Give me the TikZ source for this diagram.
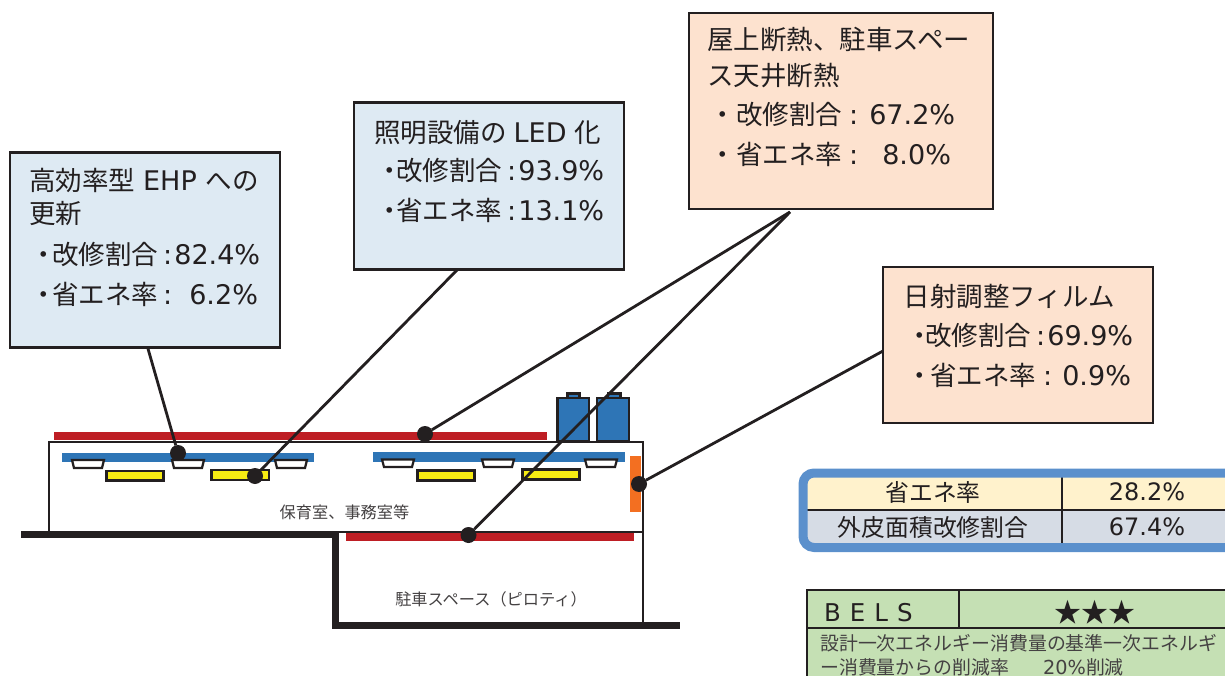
\documentclass[tikz,border=0pt]{standalone}
\usepackage{fontspec}
\setmainfont{Noto Sans CJK JP}
\newfontfamily\lat[Scale=1.02]{DejaVu Sans}
\newcommand{\Lt}[1]{{\lat #1}}
\newcommand{\Pt}[1][5pt]{\hspace{#1}・\hspace{-#1}}
\definecolor{ink}{HTML}{231F20}
\definecolor{barblue}{HTML}{2E75B6}
\definecolor{roofred}{HTML}{BE1E24}
\definecolor{lampyel}{HTML}{F7EC13}
\definecolor{filmor}{HTML}{F36F21}
\definecolor{coolbox}{HTML}{DEEAF3}
\definecolor{warmbox}{HTML}{FDE2CF}
\definecolor{frameblue}{HTML}{5B90CC}
\definecolor{creamrow}{HTML}{FFF2CC}
\definecolor{greyrow}{HTML}{D6DCE5}
\definecolor{belsgreen}{HTML}{C5E0B4}
\tikzset{
  callout/.style={draw=ink,line width=2.5pt,outer sep=0pt,inner sep=0pt,rectangle},
  txt/.style={anchor=base west,inner sep=0pt,text=ink,font=\fontsize{26.5}{27}\selectfont},
  smalltxt/.style={anchor=base,inner sep=0pt,text=ink!85!white,font=\fontsize{16.2}{17}\selectfont},
  belstxt/.style={anchor=base west,inner sep=0pt,text=ink!85!white,font=\fontsize{18.9}{19}\selectfont},
  celltxt/.style={anchor=base,inner sep=0pt,text=ink,font=\fontsize{23.8}{24}\selectfont},
  leaderline/.style={draw=ink,line width=2.8pt},
  dot/.style={circle,fill=ink,minimum size=16pt,inner sep=0pt,outer sep=0pt},
  wall/.style={draw=ink,line width=2.5pt},
  thickwall/.style={draw=ink,line width=7pt},
  lamp/.style={draw=ink,fill=white,line width=2.2pt},
  yellowlight/.style={draw=ink,fill=lampyel,line width=2.4pt},
  acunit/.style={draw=ink,fill=barblue,line width=2.2pt}
}
\begin{document}
\begin{tikzpicture}[x=1pt,y=-1pt]
\useasboundingbox (0,0) rectangle (1225,676);
\clip (0,0) rectangle (1225,676);
% building
\fill[roofred] (54,432) rectangle (547,440);
\fill[roofred] (346,533) rectangle (634,541);
\draw[wall] (49,532) -- (49,442) -- (643,442) -- (643,624);
\draw[wall] (333,532) -- (643,532);
\draw[thickwall] (21,534) -- (335,534) -- (335,625) -- (680,625);
\fill[barblue] (62,453) rectangle (314,462);
\fill[barblue] (373,452) rectangle (625,462);
\foreach \x in {72,172,275}
  \draw[lamp] (\x,460) -- (\x+32,460) -- (\x+30,468) -- (\x+2,468) -- cycle;
\foreach \x in {382,482,585}
  \draw[lamp] (\x,459.5) -- (\x+32,459.5) -- (\x+30,467) -- (\x+2,467) -- cycle;
\draw[yellowlight] (106.5,471) rectangle (163.5,480.5);
\draw[yellowlight] (211.5,470) rectangle (269,480);
\draw[yellowlight] (417.5,470.5) rectangle (474.5,480.5);
\draw[yellowlight] (522.5,469.5) rectangle (579.5,479.5);
\draw[acunit] (567.5,393.5) rectangle (579.5,398);
\draw[acunit] (608,393.5) rectangle (620.5,398);
\draw[acunit] (557.5,398) rectangle (589,441.5);
\draw[acunit] (597,398) rectangle (629,441.5);
\fill[filmor] (630,456) rectangle (641,512);
\node[smalltxt] (room) at (344.5,518) {保育室、事務室等};
\node[smalltxt] (park) at (491,605) {駐車スペース（ピロティ）};
% callouts
\node[callout,fill=coolbox,minimum width=270pt,minimum height=195pt] (ehp) at (145,250) {};
\node[callout,fill=coolbox,minimum width=270pt,minimum height=167pt] (led) at (489,186) {};
\node[callout,fill=warmbox,minimum width=304pt,minimum height=196pt] (roof) at (841,111) {};
\node[callout,fill=warmbox,minimum width=270pt,minimum height=156pt] (film) at (1018,345) {};
\node[txt] (e1) at (29,191) {高効率型\hspace{2pt} \Lt{EHP}\hspace{3pt} への};
\node[txt] (e2) at (29,224) {更新};
\node[txt] (e3) at (25.5,265) {\Pt 改修割合\hspace{5pt}\Lt{:}\hspace{2pt}\Lt{82.4\%}};
\node[txt] (e4) at (25.5,304) {\Pt 省エネ率\hspace{5pt}\Lt{:}\hspace{17pt}\Lt{6.2\%}};
\node[txt] (l1) at (374,143) {照明設備の\hspace{1pt} \Lt{LED}\hspace{2pt} 化};
\node[txt] (l2) at (369.5,181) {\Pt[7pt]改修割合\hspace{5pt}\Lt{:}\hspace{2pt}\Lt{93.9\%}};
\node[txt] (l3) at (369.5,221) {\Pt[7pt]省エネ率\hspace{5pt}\Lt{:}\hspace{2pt}\Lt{13.1\%}};
\node[txt] (r1) at (707,50) {屋上断熱、駐車スペー};
\node[txt] (r2) at (707,86) {ス天井断熱};
\node[txt] (r3) at (709.5,125) {・改修割合\hspace{7pt}\Lt{:}\hspace{11pt}\Lt{67.2\%}};
\node[txt] (r4) at (709.5,165) {・省エネ率\hspace{7pt}\Lt{:}\hspace{24pt}\Lt{8.0\%}};
\node[txt] (f1) at (903.5,306) {日射調整フィルム};
\node[txt] (f2) at (898.5,345) {\Pt[8pt]改修割合\hspace{5pt}\Lt{:}\hspace{2pt}\Lt{69.9\%}};
\node[txt] (f3) at (903.5,385) {\Pt[3pt]省エネ率\hspace{7pt}\Lt{:}\hspace{10pt}\Lt{0.9\%}};
% dots and leaders
\node[dot] (d1) at (178,453) {};
\node[dot] (d2) at (255,476) {};
\node[dot] (d3) at (425,434) {};
\node[dot] (d4) at (468.5,535) {};
\node[dot] (d5) at (639,484) {};
\coordinate (c1) at (147.5,347);
\coordinate (c2) at (458,269);
\coordinate (c3) at (790,212);
\coordinate (c5) at (883,351);
\draw[leaderline] (c1) -- (d1);
\draw[leaderline] (c2) -- (d2);
\draw[leaderline] (c3) -- (d3);
\draw[leaderline] (c3) -- (d4);
\draw[leaderline] (c5) -- (d5);
% summary table
\fill[creamrow] (803,473) rectangle (1062,510);
\fill[creamrow] (1062,473) rectangle (1240,510);
\fill[greyrow] (803,510) rectangle (1062,547);
\fill[greyrow] (1062,510) rectangle (1240,547);
\draw[draw=ink,line width=1.1pt] (803,510) -- (1240,510) (1062,477) -- (1062,543);
\draw[draw=frameblue,line width=9pt,rounded corners=11pt] (803,473) rectangle (1240,547.5);
\node[celltxt] (t1) at (933,501) {省エネ率};
\node[celltxt] (t2) at (933,536) {外皮面積改修割合};
\node[celltxt,font=\fontsize{23.5}{24}\lat] (t3) at (1147,500) {28.2\%};
\node[celltxt,font=\fontsize{23.5}{24}\lat] (t4) at (1147,535) {67.4\%};
% BELS
\draw[draw=ink,fill=belsgreen,line width=2pt] (806.5,590) rectangle (1240,690);
\draw[draw=ink,line width=2pt] (806.5,628) -- (1240,628) (959,590) -- (959,628);
\node[txt,font=\fontsize{24}{24}\selectfont] (b1) at (824,621) {\Lt{B}\hspace{9pt}\Lt{E}\hspace{9pt}\Lt{L}\hspace{9pt}\Lt{S}};
\node[anchor=base,inner sep=0pt,text=ink,font=\fontsize{27}{28}\selectfont] (b2) at (1095,622) {★★★};
\node[belstxt] (b3) at (820,650) {設計一次エネルギー消費量の基準一次エネルギ};
\node[belstxt] (b4) at (820,674) {ー消費量からの削減率\hspace{34pt}\Lt{20\%}削減};
\end{tikzpicture}
\end{document}
